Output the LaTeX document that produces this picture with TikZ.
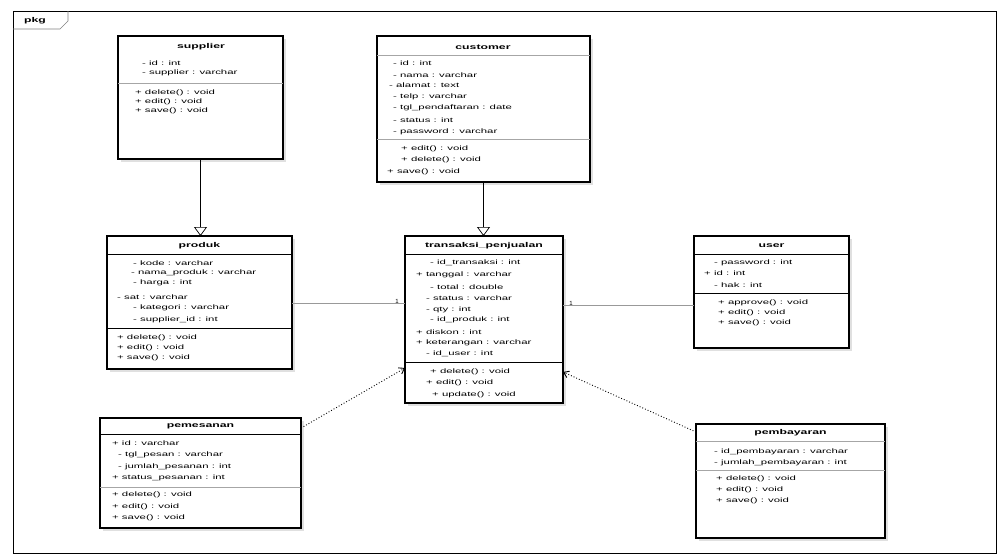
\documentclass[tikz,border=0pt]{standalone}
\usepackage{fontspec}
\setmainfont{Liberation Sans}
\newfontfamily\wf[FakeStretch=1.75]{Liberation Sans}
\usetikzlibrary{arrows.meta,calc}
\tikzset{
  cls/.style={draw=black, line width=1.3pt, fill=white, anchor=north west, inner sep=0pt, outer sep=0pt},
  shadowbox/.style={fill=black!12, draw=none},
  ttl/.style={font=\wf\fontsize{7}{8}\selectfont\bfseries, inner sep=0pt},
  txt/.style={font=\wf\fontsize{6.5}{8}\selectfont, anchor=west, inner sep=0pt},
  sepb/.style={draw=black, line width=1pt},
  sepg/.style={draw=black!35, line width=0.6pt},
  gen/.style={draw=black, line width=0.7pt, -{Triangle[open, length=9pt, width=13pt]}},
  assoc/.style={draw=black!40, line width=0.6pt},
  dep/.style={draw=black, line width=0.9pt, dotted, -{Straight Barb[length=5pt, width=7pt]}},
  mult/.style={font=\fontsize{6}{7}\selectfont, inner sep=0pt},
}
\begin{document}
\begin{tikzpicture}[x=1pt, y=-1pt]
\useasboundingbox (0,0) rectangle (1000,558);
% frame
\node[draw=black, line width=0.8pt, minimum width=983pt, minimum height=542pt, anchor=north west, inner sep=0pt] (frame) at (13,11) {};
\draw[black!50, line width=0.6pt] (13,29) -- (60,29) -- (68,21) -- (68,11);
\node[ttl, anchor=west] (framelbl) at (24,21) {pkg};

% ---------- supplier ----------
\fill[shadowbox] (121,39) rectangle (286,162);
\node[cls, minimum width=165pt, minimum height=123pt] (sup) at (118,36) {};
\node[ttl] (supT) at (201,47) {supplier};
\draw[sepg] ($(sup.north west)+(0,47)$) -- ($(sup.north east)+(0,47)$);
\node[txt] (sup1) at (142,63) {- id : int};
\node[txt] (sup2) at (142,73) {- supplier : varchar};
\node[txt] (sup3) at (135,93) {+ delete() : void};
\node[txt] (sup4) at (135,102) {+ edit() : void};
\node[txt] (sup5) at (135,111) {+ save() : void};

% ---------- customer ----------
\fill[shadowbox] (380,39) rectangle (593,185);
\node[cls, line width=1.8pt, minimum width=213pt, minimum height=146pt] (cust) at (377,36) {};
\node[ttl] (custT) at (483,47) {customer};
\draw[sepg] ($(cust.north west)+(0,19)$) -- ($(cust.north east)+(0,19)$);
\draw[sepg] ($(cust.north west)+(0,103)$) -- ($(cust.north east)+(0,103)$);
\node[txt] (cu1) at (393,63) {- id : int};
\node[txt] (cu2) at (393,75) {- nama : varchar};
\node[txt] (cu3) at (389,85) {- alamat : text};
\node[txt] (cu4) at (393,97) {- telp : varchar};
\node[txt] (cu5) at (393,108) {- tgl\_pendaftaran : date};
\node[txt] (cu6) at (393,120) {- status : int};
\node[txt] (cu7) at (393,132) {- password : varchar};
\node[txt] (cu8) at (401,149) {+ edit() : void};
\node[txt] (cu9) at (401,160) {+ delete() : void};
\node[txt] (cu10) at (387,172) {+ save() : void};

% ---------- produk ----------
\fill[shadowbox] (110,239) rectangle (295,372);
\node[cls, minimum width=185pt, minimum height=133pt] (prod) at (107,236) {};
\node[ttl] (prodT) at (199.5,246) {produk};
\draw[sepb] ($(prod.north west)+(0,18)$) -- ($(prod.north east)+(0,18)$);
\draw[sepb] ($(prod.north west)+(0,92)$) -- ($(prod.north east)+(0,92)$);
\node[txt] (pr1) at (133,263) {- kode : varchar};
\node[txt] (pr2) at (131,273) {- nama\_produk : varchar};
\node[txt] (pr3) at (133,283) {- harga : int};
\node[txt] (pr4) at (117,297) {- sat : varchar};
\node[txt] (pr5) at (133,308) {- kategori : varchar};
\node[txt] (pr6) at (133,320) {- supplier\_id : int};
\node[txt] (pr7) at (117,338) {+ delete() : void};
\node[txt] (pr8) at (117,348) {+ edit() : void};
\node[txt] (pr9) at (117,358) {+ save() : void};

% ---------- transaksi ----------
\fill[shadowbox] (408,239) rectangle (566,406);
\node[cls, line width=1.6pt, minimum width=158pt, minimum height=167pt] (trans) at (405,236) {};
\node[ttl] (transT) at (484,246) {transaksi\_penjualan};
\draw[sepb] ($(trans.north west)+(0,18)$) -- ($(trans.north east)+(0,18)$);
\draw[sepb] ($(trans.north west)+(0,126)$) -- ($(trans.north east)+(0,126)$);
\node[txt] (tr1) at (430,263) {- id\_transaksi : int};
\node[txt] (tr2) at (416,275) {+ tanggal : varchar};
\node[txt] (tr3) at (430,287) {- total : double};
\node[txt] (tr4) at (426,298) {- status : varchar};
\node[txt] (tr5) at (426,310) {- qty : int};
\node[txt] (tr6) at (430,320) {- id\_produk : int};
\node[txt] (tr7) at (416,332) {+ diskon : int};
\node[txt] (tr8) at (416,343) {+ keterangan : varchar};
\node[txt] (tr9) at (426,354) {- id\_user : int};
\node[txt] (tr10) at (430,372) {+ delete() : void};
\node[txt] (tr11) at (426,383) {+ edit() : void};
\node[txt] (tr12) at (432,395) {+ update() : void};

% ---------- user ----------
\fill[shadowbox] (697,239) rectangle (852,351);
\node[cls, minimum width=155pt, minimum height=112pt] (adm) at (694,236) {};
\node[ttl] (admT) at (771.5,246) {user};
\draw[sepb] ($(adm.north west)+(0,18)$) -- ($(adm.north east)+(0,18)$);
\draw[sepb] ($(adm.north west)+(0,57)$) -- ($(adm.north east)+(0,57)$);
\node[txt] (ad1) at (714,263) {- password : int};
\node[txt] (ad2) at (704,273) {+ id : int};
\node[txt] (ad3) at (714,285) {- hak : int};
\node[txt] (ad4) at (718,303) {+ approve() : void};
\node[txt] (ad5) at (718,313) {+ edit() : void};
\node[txt] (ad6) at (718,323) {+ save() : void};

% ---------- pemesanan ----------
\fill[shadowbox] (103,421) rectangle (304,531);
\node[cls, minimum width=201pt, minimum height=110pt] (pem) at (100,418) {};
\node[ttl] (pemT) at (200.5,426) {pemesanan};
\draw[sepb] ($(pem.north west)+(0,16)$) -- ($(pem.north east)+(0,16)$);
\draw[sepg] ($(pem.north west)+(0,69)$) -- ($(pem.north east)+(0,69)$);
\node[txt] (pe1) at (112,443) {+ id : varchar};
\node[txt] (pe2) at (118,455) {- tgl\_pesan : varchar};
\node[txt] (pe3) at (118,467) {- jumlah\_pesanan : int};
\node[txt] (pe4) at (112,478) {+ status\_pesanan : int};
\node[txt] (pe5) at (112,495) {+ delete() : void};
\node[txt] (pe6) at (112,507) {+ edit() : void};
\node[txt] (pe7) at (112,518) {+ save() : void};

% ---------- pembayaran ----------
\fill[shadowbox] (699,427) rectangle (888,541);
\node[cls, minimum width=189pt, minimum height=114pt] (pay) at (696,424) {};
\node[ttl] (payT) at (790.5,433) {pembayaran};
\draw[sepg] ($(pay.north west)+(0,17)$) -- ($(pay.north east)+(0,17)$);
\draw[sepg] ($(pay.north west)+(0,46)$) -- ($(pay.north east)+(0,46)$);
\node[txt] (pa1) at (714,452) {- id\_pembayaran : varchar};
\node[txt] (pa2) at (714,463) {- jumlah\_pembayaran : int};
\node[txt] (pa3) at (716,479) {+ delete() : void};
\node[txt] (pa4) at (716,490) {+ edit() : void};
\node[txt] (pa5) at (716,501) {+ save() : void};

% ---------- connectors ----------
\coordinate (c303) at (0,303);
\coordinate (c305) at (0,305);
\coordinate (c368) at (0,368);
\coordinate (c372) at (0,372);
\coordinate (c428) at (0,428);
\coordinate (c432) at (0,432);
\draw[gen] (sup.south) -- (sup.south |- prod.north);
\draw[gen] (cust.south) -- (cust.south |- trans.north);
\draw[assoc] (prod.east |- c303) -- (trans.west |- c303);
\node[mult] (m1) at (397,301) {1};
\draw[assoc] (trans.east |- c305) -- (adm.west |- c305);
\node[mult] (m2) at (571,303) {1};
\draw[dep] (pem.east |- c428) -- (trans.west |- c368);
\draw[dep] (pay.west |- c432) -- (trans.east |- c372);
\end{tikzpicture}
\end{document}
